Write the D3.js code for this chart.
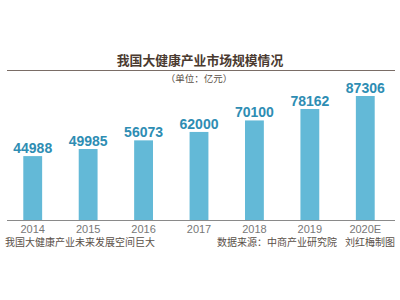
<!DOCTYPE html>
<meta charset="utf-8">
<style>
body { margin: 0; background: #fff; }
svg text { font-family: "Noto Sans CJK SC", "Liberation Sans", sans-serif; }
.bar { fill: #63b9d7; }
.val { fill: #2e8db3; font-weight: bold; font-family: "Liberation Sans", Arial, sans-serif !important; }
.year { fill: #777; font-family: "Liberation Sans", Arial, sans-serif !important; }
.note { fill: #5a4f48; }
</style>
<body>
<div id="chart"></div>
<script src="https://d3js.org/d3.v7.min.js"></script>
<script>
// 数据
var years = ["2014", "2015", "2016", "2017", "2018", "2019", "2020E"];
var values = [44988, 49985, 56073, 62000, 70100, 78162, 87306];

var width = 400, height = 300;
var baseY = 220;

var svg = d3.select("#chart").append("svg")
    .attr("width", width)
    .attr("height", height);

var x = d3.scaleBand()
    .domain(years)
    .range([5, 393])
    .paddingInner(0.66)
    .paddingOuter(0.33);

var y = d3.scaleLinear()
    .domain([0, 87306])
    .range([baseY, 96]);

// 标题
svg.append("text")
    .attr("x", 200).attr("y", 65)
    .attr("text-anchor", "middle")
    .attr("font-size", 12.8)
    .attr("font-weight", "bold")
    .attr("fill", "#4a3a30")
    .text("我国大健康产业市场规模情况");

svg.append("line")
    .attr("x1", 7).attr("x2", 395)
    .attr("y1", 70.5).attr("y2", 70.5)
    .attr("stroke", "#7a6d66").attr("stroke-width", 1);

svg.append("text")
    .attr("x", 199).attr("y", 82)
    .attr("text-anchor", "middle")
    .attr("font-size", 9.5)
    .attr("fill", "#5a4f48")
    .text("（单位：亿元）");

svg.selectAll(".bar")
    .data(values)
    .enter().append("rect")
    .attr("class", "bar")
    .attr("x", function(d, i) { return x(years[i]); })
    .attr("width", x.bandwidth())
    .attr("y", function(d) { return y(d); })
    .attr("height", function(d) { return baseY - y(d); });

svg.selectAll(".val")
    .data(values)
    .enter().append("text")
    .attr("class", "val")
    .attr("x", function(d, i) { return x(years[i]) + x.bandwidth() / 2; })
    .attr("y", function(d) { return y(d) - 3; })
    .attr("text-anchor", "middle")
    .attr("font-size", 14)
    .text(function(d) { return d; });

// x 轴
var xAxis = svg.append("g")
    .attr("transform", "translate(0," + baseY + ")")
    .call(d3.axisBottom(x).tickSize(0).tickPadding(5));
xAxis.select(".domain").remove();
xAxis.selectAll("text").attr("class", "year").attr("font-size", 11);

svg.append("line")
    .attr("x1", 7).attr("x2", 395)
    .attr("y1", baseY + 0.5).attr("y2", baseY + 0.5)
    .attr("stroke", "#8a8a8a").attr("stroke-width", 1.2);

svg.append("text")
    .attr("class", "note")
    .attr("x", 5).attr("y", 246)
    .attr("font-size", 10)
    .text("我国大健康产业未来发展空间巨大");

svg.append("text")
    .attr("class", "note")
    .attr("x", 337).attr("y", 246)
    .attr("text-anchor", "end")
    .attr("font-size", 10)
    .text("数据来源：中商产业研究院");

svg.append("text")
    .attr("class", "note")
    .attr("x", 395).attr("y", 246)
    .attr("text-anchor", "end")
    .attr("font-size", 10)
    .text("刘红梅制图");
</script>
</body>
